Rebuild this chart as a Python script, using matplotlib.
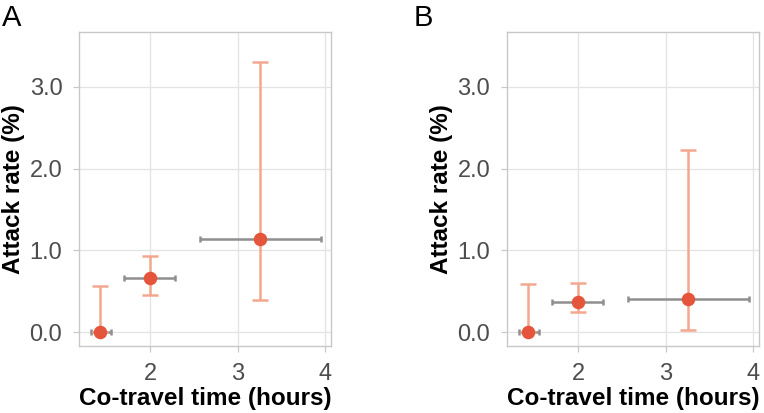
import matplotlib.pyplot as plt

plt.rcParams['font.family'] = ['Liberation Sans', 'DejaVu Sans']

# co-travel time (hours) with ranges, attack rate (%) with 95% CI
time_mid = [1.43, 2.0, 3.26]
time_lo = [1.32, 1.70, 2.57]
time_hi = [1.55, 2.28, 3.95]

rate_a = [0.0, 0.66, 1.14]
rate_a_lo = [0.0, 0.46, 0.39]
rate_a_hi = [0.57, 0.93, 3.30]

rate_b = [0.0, 0.37, 0.40]
rate_b_lo = [0.0, 0.24, 0.02]
rate_b_hi = [0.59, 0.60, 2.23]

panels = [("A", rate_a, rate_a_lo, rate_a_hi),
          ("B", rate_b, rate_b_lo, rate_b_hi)]

fig = plt.figure(figsize=(7.64, 4.13), dpi=100)
lefts = [0.1034, 0.6636]
letter_x = [0.003, 0.542]

for left, lx, (letter, y, ylo, yhi) in zip(lefts, letter_x, panels):
    ax = fig.add_axes([left, 0.1622, 0.330, 0.760])
    xerr = [[m - lo for m, lo in zip(time_mid, time_lo)],
            [hi - m for m, hi in zip(time_mid, time_hi)]]
    yerr = [[v - lo for v, lo in zip(y, ylo)],
            [hi - v for v, hi in zip(y, yhi)]]
    ax.errorbar(time_mid, y, xerr=xerr, fmt='none', ecolor='#8f8f8f',
                elinewidth=1.8, capsize=2, capthick=1.8, zorder=3)
    ax.errorbar(time_mid, y, yerr=yerr, fmt='none', ecolor='#f2a88e',
                elinewidth=1.8, capsize=6, capthick=1.8, zorder=4)
    ax.scatter(time_mid, y, s=95, color='#e5553b', zorder=5, linewidths=0)

    ax.set_xlim(1.187, 4.07)
    ax.set_ylim(-0.17, 3.67)
    ax.set_xticks([2, 3, 4])
    ax.set_yticks([0, 1, 2, 3])
    ax.set_yticklabels(['0.0', '1.0', '2.0', '3.0'])
    ax.grid(True, color='#e3e3e3', linewidth=0.9)
    ax.set_axisbelow(True)
    for s in ax.spines.values():
        s.set_color('#c8c8c8')
        s.set_linewidth(1.0)
    ax.tick_params(colors='#c8c8c8', labelcolor='#4d4d4d', labelsize=17,
                   length=4, width=0.9, pad=8)
    ax.set_xlabel('Co-travel time (hours)', fontsize=17.5, fontweight='bold',
                  labelpad=2)
    ax.set_ylabel('Attack rate (%)', fontsize=17.5, fontweight='bold',
                  labelpad=3)
    fig.text(lx, 0.99, letter, fontsize=21, va='top', ha='left')

fig.savefig('out.png', dpi=100)
